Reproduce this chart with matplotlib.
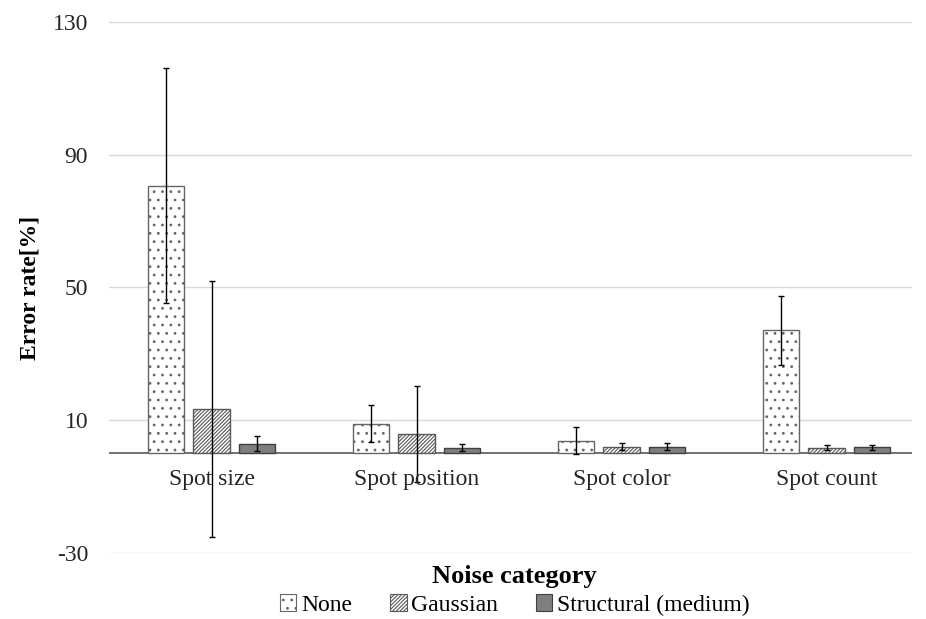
import numpy as np
import matplotlib.pyplot as plt
from matplotlib.patches import Patch

plt.rcParams['font.family'] = ['Liberation Serif', 'DejaVu Serif']
plt.rcParams['hatch.linewidth'] = 0.8
plt.rcParams['axes.unicode_minus'] = False

categories = ['Spot size', 'Spot position', 'Spot color', 'Spot count']
series = ['None', 'Gaussian', 'Structural (medium)']
none_vals = [80.7, 9.0, 3.9, 37.1]
none_err = [35.5, 5.7, 4.0, 10.4]
gauss_vals = [13.3, 5.9, 2.0, 1.7]
gauss_err = [38.6, 14.4, 1.0, 0.8]
struct_vals = [2.9, 1.7, 2.0, 1.8]
struct_err = [2.3, 1.0, 1.1, 0.8]

fig = plt.figure(figsize=(9.26, 6.19), dpi=100)
ax = fig.add_axes([0.1177, 0.1066, 0.8673, 0.8579])

x = np.arange(len(categories))
w = 0.178
step = 0.222

#bars
styles = [
    dict(facecolor='white', edgecolor='#666666', hatch='..'),
    dict(facecolor='white', edgecolor='#595959', hatch='/////////'),
    dict(facecolor='#7f7f7f', edgecolor='#404040', hatch=None),
]
vals = [none_vals, gauss_vals, struct_vals]
errs = [none_err, gauss_err, struct_err]
for k in range(3):
    ax.bar(x + (k - 1) * step, vals[k], w, linewidth=1.0, zorder=2, **styles[k])
    ax.errorbar(x + (k - 1) * step, vals[k], yerr=errs[k], fmt='none',
                ecolor='black', elinewidth=1.0, capsize=2.5, capthick=1.0, zorder=3)

ax.set_ylim(-30, 130)
ax.set_xlim(-0.5, 3.417)
ax.set_yticks([-30, 10, 50, 90, 130])
ax.grid(axis='y', color='#d9d9d9', linewidth=1.0, zorder=0)
ax.set_axisbelow(True)
ax.axhline(0, color='#595959', linewidth=1.2, zorder=1)
for s in ax.spines.values():
    s.set_visible(False)
ax.tick_params(axis='both', length=0, labelsize=17, pad=15, colors='#262626')
ax.set_xticks([])

for i, c in enumerate(categories):
    ax.text(i, -7.8, c, ha='center', va='center', fontsize=17, color='#262626')

ax.set_ylabel('Error rate[%]', fontsize=17, fontweight='bold', labelpad=9)
fig.text(0.555, 0.068, 'Noise category', ha='center', va='center',
         fontsize=19, fontweight='bold')

handles = [Patch(label=series[k], linewidth=0.8, **styles[k]) for k in range(3)]
fig.legend(handles=handles, loc='center', bbox_to_anchor=(0.556, 0.0226), ncol=3,
           frameon=False, fontsize=17, handlelength=0.7, handleheight=0.7,
           handletextpad=0.2, columnspacing=1.6)

plt.savefig('out.png', dpi=100)
